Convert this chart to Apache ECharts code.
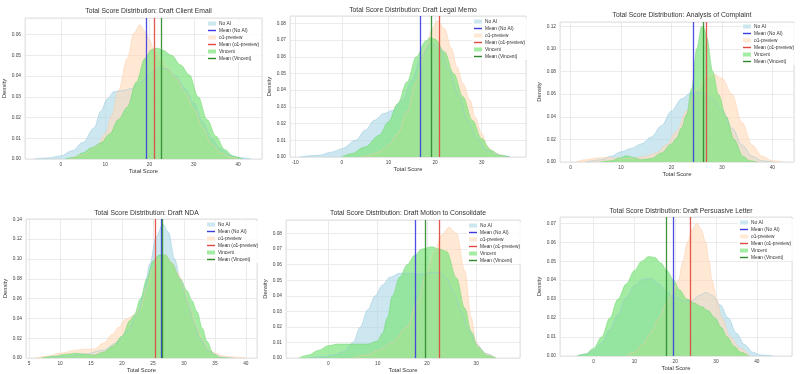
<!DOCTYPE html>
<html><head><meta charset="utf-8">
<script src="https://cdn.jsdelivr.net/npm/echarts@6/dist/echarts.min.js"></script>
<style>html,body{margin:0;padding:0;background:#fff}#c{width:800px;height:374px}</style>
</head><body><div id="c"></div>
<script>
const TITLES = [
  'Total Score Distribution: Draft Client Email',
  'Total Score Distribution: Draft Legal Memo',
  'Total Score Distribution: Analysis of Complaint',
  'Total Score Distribution: Draft NDA',
  'Total Score Distribution: Draft Motion to Consolidate',
  'Total Score Distribution: Draft Persuasive Letter'
];
const GROUPS = ['No AI', 'o1-preview', 'Vincent'];
const MEAN_NO_AI   = [19.25, 16.9, 24.4, 26.4, 17.6, 19.6];
const MEAN_O1      = [21.1, 20.85, 26.9, 25.3, 22.6, 23.7];
const MEAN_VINCENT = [22.7, 19.1, 26.4, 26.45, 19.7, 17.8];

// density curves (x = total score, y = density)
const EMAIL_NO_AI = [[-6,0],[-3,0.0005],[0,0.0015],[2.5,0.004],[5,0.008],[7.5,0.015],[9,0.023],[10.5,0.029],[12,0.0325],[14,0.033],[16,0.034],[18,0.037],[20,0.041],[22,0.0438],[24,0.0435],[26,0.04],[28,0.034],[30,0.027],[32,0.018],[34,0.01],[36,0.005],[38,0.002],[40,0.0007],[43,0]];
const EMAIL_O1 = [[2,0],[5,0.002],[8,0.006],[10,0.012],[11.5,0.021],[13,0.033],[15,0.0486],[16.5,0.0607],[17.8,0.0647],[19,0.0615],[20,0.0575],[21,0.0527],[22.5,0.048],[24,0.044],[26,0.039],[28,0.032],[30,0.024],[32,0.015],[34,0.007],[36,0.003],[38,0.001],[40,0]];
const EMAIL_VINCENT = [[1,0],[3,0.0008],[5,0.003],[7,0.0055],[9,0.0077],[11,0.012],[13,0.019],[15,0.025],[17,0.037],[19,0.0486],[20.5,0.0528],[21.7,0.0535],[23,0.0525],[25,0.05],[27,0.0454],[29,0.0406],[31,0.03],[33,0.019],[35,0.011],[37,0.0045],[39,0.0013],[41,0]];

const MEMO_NO_AI = [[-9,0],[-5,0.001],[-2,0.003],[0,0.005],[3,0.01],[5,0.016],[7,0.022],[9,0.026],[11,0.028],[13,0.034],[15,0.046],[17,0.06],[19,0.068],[21,0.065],[23,0.052],[25,0.037],[27,0.022],[29,0.011],[31,0.004],[34,0.001],[36,0]];
const MEMO_O1 = [[4,0],[6,0.001],[8,0.003],[10,0.007],[12,0.014],[14,0.027],[16,0.045],[18,0.066],[19.5,0.0775],[20.5,0.0815],[22,0.077],[23.5,0.065],[24.7,0.054],[26,0.044],[27.5,0.034],[28.6,0.024],[30,0.014],[31.3,0.006],[33,0.002],[35,0]];
const MEMO_VINCENT = [[0,0],[2,0.002],[5,0.006],[8,0.013],[10,0.021],[12,0.032],[14,0.045],[16,0.06],[18,0.0695],[19,0.0715],[20,0.0705],[22,0.063],[24,0.05],[26,0.036],[28,0.022],[30,0.011],[32,0.004],[34,0.001],[36,0]];

const COMPLAINT_NO_AI = [[3,0],[6,0.002],[8,0.005],[10,0.009],[12,0.012],[14,0.016],[16,0.022],[18,0.032],[20,0.045],[22,0.056],[24,0.0615],[26,0.061],[28,0.056],[30,0.046],[32,0.03],[34,0.015],[36,0.005],[38,0.001],[40,0]];
const COMPLAINT_O1 = [[1,0],[3,0.002],[5,0.0035],[7,0.004],[9,0.0035],[11,0.003],[13,0.0035],[15,0.005],[17,0.008],[19,0.015],[21,0.027],[23,0.045],[25,0.063],[27,0.075],[28.5,0.0775],[30,0.074],[32,0.06],[34,0.035],[36,0.015],[38,0.005],[40,0.001],[42,0]];
const COMPLAINT_VINCENT = [[6,0],[8,0.001],[10,0.004],[11,0.0055],[12.5,0.004],[14,0.002],[16,0.003],[18,0.008],[20,0.016],[21,0.021],[22,0.03],[23,0.042],[24,0.065],[25,0.1],[26,0.12],[26.5,0.118],[27,0.11],[28.2,0.08],[29.3,0.06],[30.9,0.04],[32.4,0.02],[34.2,0.005],[35.5,0.001],[37,0]];

const NDA_NO_AI = [[8,0],[11,0.002],[14,0.004],[17,0.008],[19,0.015],[21,0.028],[22.5,0.045],[23.5,0.065],[24.5,0.095],[25.5,0.122],[26.6,0.135],[27.5,0.127],[28.5,0.1],[29.5,0.078],[30.5,0.058],[31.5,0.038],[32.5,0.02],[34,0.007],[36,0.001],[38,0]];
const NDA_O1 = [[6,0],[8,0.002],[10,0.005],[12.5,0.008],[14,0.009],[15.5,0.009],[17,0.015],[18.5,0.024],[19.5,0.031],[20.5,0.039],[22,0.043],[23,0.05],[24,0.07],[25,0.09],[26,0.1],[27,0.104],[28,0.097],[29,0.086],[30,0.07],[31,0.05],[32,0.032],[33,0.018],[34,0.009],[35,0.005],[36.5,0.002],[38,0.001],[40,0]];
const NDA_VINCENT = [[7,0],[9,0.002],[11,0.004],[12.5,0.005],[14,0.004],[15.5,0.003],[17,0.006],[18.5,0.012],[20,0.022],[21.3,0.038],[22,0.044],[23,0.06],[24,0.08],[25,0.098],[26,0.104],[27,0.104],[28,0.096],[29.4,0.08],[30.5,0.068],[31.3,0.058],[32.1,0.047],[33,0.03],[33.7,0.017],[34.8,0.004],[36,0.0005],[37,0]];

const MOTION_NO_AI = [[-4,0],[-1,0.001],[1,0.002],[3,0.004],[5,0.01],[6.5,0.02],[8,0.031],[9.5,0.04],[11,0.047],[12.5,0.052],[14.5,0.0545],[17,0.0545],[19,0.054],[21,0.055],[22.5,0.055],[24,0.051],[25.5,0.042],[27,0.03],[28.5,0.018],[30,0.009],[32,0.003],[34,0]];
const MOTION_O1 = [[5,0],[8,0.002],[10,0.005],[13,0.01],[16,0.02],[18,0.035],[20,0.055],[21.5,0.068],[23,0.079],[24.5,0.084],[26,0.08],[27.7,0.056],[29,0.026],[30,0.01],[31.5,0.003],[34,0]];
const MOTION_VINCENT = [[-6,0],[-4,0.002],[-2,0.005],[0,0.008],[2,0.009],[4,0.009],[6,0.009],[8,0.009],[10,0.011],[11,0.016],[12,0.026],[13,0.04],[14.5,0.052],[16,0.06],[17.5,0.066],[19,0.07],[21,0.0715],[22.5,0.07],[24,0.0685],[26,0.0515],[27.7,0.032],[29,0.017],[30.4,0.007],[32.4,0.0015],[34,0]];

const LETTER_NO_AI = [[-4,0],[-2,0.001],[0,0.003],[2,0.007],[4,0.014],[6,0.022],[8,0.031],[10,0.037],[12,0.0405],[14,0.041],[16,0.038],[18,0.034],[20,0.031],[22,0.029],[24,0.029],[26,0.032],[27.5,0.0335],[29,0.032],[31,0.027],[33,0.02],[35,0.012],[37,0.006],[39,0.002],[41,0.0005],[44,0]];
const LETTER_O1 = [[8,0],[10,0.002],[12,0.006],[14,0.012],[16,0.02],[18,0.028],[19.5,0.034],[20.8,0.04],[21.9,0.05],[23,0.06],[24.2,0.067],[25.3,0.07],[26.3,0.067],[27.5,0.06],[28.3,0.05],[29,0.04],[30.2,0.03],[31.4,0.02],[33.5,0.01],[35.9,0.004],[38.4,0]];
const LETTER_VINCENT = [[-4,0],[-2,0.001],[0,0.004],[2,0.01],[4,0.02],[6,0.03],[8,0.038],[10,0.045],[11.8,0.05],[13.5,0.0525],[15,0.052],[16.5,0.049],[18,0.045],[19.6,0.04],[21,0.035],[22.9,0.03],[24.5,0.028],[26.5,0.026],[28,0.024],[29.8,0.02],[31.3,0.015],[32.7,0.01],[34.5,0.005],[36,0.002],[38,0]];

const CURVES = [
  [EMAIL_NO_AI, EMAIL_O1, EMAIL_VINCENT],
  [MEMO_NO_AI, MEMO_O1, MEMO_VINCENT],
  [COMPLAINT_NO_AI, COMPLAINT_O1, COMPLAINT_VINCENT],
  [NDA_NO_AI, NDA_O1, NDA_VINCENT],
  [MOTION_NO_AI, MOTION_O1, MOTION_VINCENT],
  [LETTER_NO_AI, LETTER_O1, LETTER_VINCENT]
];
const MEANS = [MEAN_NO_AI, MEAN_O1, MEAN_VINCENT];

// layout (pixels) and axis ranges per panel
const PANELS = [
  {grid:{left:25, top:18, width:237, height:141}, x:[-8.1, 45.4, 10], y:[0.068, 0.01],  titleY:3,   legend:[206, 20]},
  {grid:{left:290, top:16, width:236, height:141}, x:[-11.1, 39.5, 10], y:[0.0844, 0.01], titleY:2,  legend:[472, 18]},
  {grid:{left:560, top:22, width:234, height:140}, x:[-2.1, 44.3, 10], y:[0.1238, 0.02], titleY:7,  legend:[741, 23]},
  {grid:{left:26, top:219, width:231, height:140}, x:[4.5, 41.8, 5],  y:[0.1403, 0.02], titleY:205, legend:[205, 221]},
  {grid:{left:286, top:220, width:234, height:139}, x:[-8.6, 38.9, 10], y:[0.0887, 0.01], titleY:205, legend:[467, 222]},
  {grid:{left:560, top:217, width:232, height:139}, x:[-8.2, 48.6, 10], y:[0.0733, 0.01], titleY:203, legend:[738, 219]}
];

const FILL = ['rgba(173,216,230,0.62)', 'rgba(255,218,185,0.6)', 'rgba(125,228,125,0.7)'];
const EDGE = ['rgba(150,200,220,0.7)', 'rgba(250,205,170,0.7)', 'rgba(110,215,110,0.7)'];
const MEAN_COL = ['#3b3be0', '#e0473d', '#2b8a2b'];
const LINE_ICON = 'path://M0,0H40V7H0Z';

const chart = echarts.init(document.getElementById('c'), null, {renderer: 'canvas'});
const option = {
  backgroundColor: '#fff',
  animation: false,
  title: [], grid: [], xAxis: [], yAxis: [], legend: [], series: []
};
const FONT = 'Liberation Sans';
PANELS.forEach((p, i) => {
  option.title.push({
    text: TITLES[i], left: p.grid.left + p.grid.width / 2, top: p.titleY, textAlign: 'center',
    textStyle: {fontSize: 6.8, fontWeight: 'normal', color: '#333', fontFamily: FONT}
  });
  option.grid.push(Object.assign({show: true, borderColor: '#d8d8d8', borderWidth: 0.8, backgroundColor: '#fff'}, p.grid));
  option.xAxis.push({
    type: 'value', gridIndex: i, min: p.x[0], max: p.x[1], minInterval: p.x[2], maxInterval: p.x[2],
    name: 'Total Score', nameLocation: 'middle', nameGap: 8,
    nameTextStyle: {fontSize: 5.8, color: '#333', fontFamily: FONT},
    axisLine: {show: false}, axisTick: {show: false},
    axisLabel: {fontSize: 4.8, color: '#444', margin: 3, showMinLabel: false, showMaxLabel: false, fontFamily: FONT,
      formatter: v => String(Math.round(v))},
    splitLine: {show: true, lineStyle: {color: '#e6e6e6', width: 0.8}}
  });
  option.yAxis.push({
    type: 'value', gridIndex: i, min: 0, max: p.y[0], minInterval: p.y[1], maxInterval: p.y[1],
    name: 'Density', nameLocation: 'middle', nameGap: 14,
    nameTextStyle: {fontSize: 5.8, color: '#333', fontFamily: FONT},
    axisLine: {show: false}, axisTick: {show: false},
    axisLabel: {fontSize: 4.8, color: '#444', margin: 4, showMaxLabel: false, fontFamily: FONT,
      formatter: v => v.toFixed(2)},
    splitLine: {show: true, lineStyle: {color: '#e6e6e6', width: 0.8}}
  });
  const legendData = [];
  GROUPS.forEach((g, k) => {
    option.series.push({
      type: 'line', name: g, xAxisIndex: i, yAxisIndex: i, data: CURVES[i][k],
      smooth: 0.35, smoothMonotone: 'x', showSymbol: false, symbol: 'none', silent: true,
      lineStyle: {color: EDGE[k], width: 0.7},
      itemStyle: {color: FILL[k]},
      areaStyle: {color: FILL[k], opacity: 1}, z: 2
    });
    option.series.push({
      type: 'line', name: 'Mean (' + g + ')', xAxisIndex: i, yAxisIndex: i, data: [],
      showSymbol: false, symbol: 'none', silent: true,
      color: MEAN_COL[k],
      itemStyle: {color: MEAN_COL[k], borderColor: MEAN_COL[k]}, lineStyle: {color: MEAN_COL[k], width: 1.3},
      markLine: {
        silent: true, symbol: ['none', 'none'], label: {show: false},
        lineStyle: {color: MEAN_COL[k], width: 1.3, type: 'solid', opacity: 0.9},
        emphasis: {disabled: true},
        data: [{xAxis: MEANS[k][i]}]
      }, z: 5
    });
    legendData.push({name: g, icon: 'rect', itemStyle: {color: FILL[k], borderWidth: 0}});
    legendData.push({name: 'Mean (' + g + ')', icon: LINE_ICON,
      itemStyle: {color: MEAN_COL[k], borderColor: MEAN_COL[k], borderWidth: 0},
      lineStyle: {color: MEAN_COL[k], width: 0}});
  });
  option.legend.push({
    orient: 'vertical', left: p.legend[0], top: p.legend[1], itemWidth: 8, itemHeight: 4, itemGap: 2,
    padding: [1, 2], backgroundColor: 'rgba(255,255,255,0.8)', selectedMode: false,
    textStyle: {fontSize: 4.8, color: '#333', fontFamily: FONT, padding: [0, 0, 0, -2]},
    data: legendData
  });
});
chart.setOption(option);
</script>
</body></html>
